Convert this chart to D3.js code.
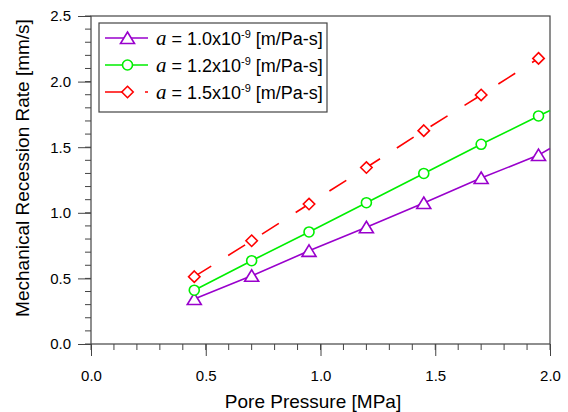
<!DOCTYPE html>
<html>
<head>
<meta charset="utf-8">
<script src="https://cdn.jsdelivr.net/npm/d3@7"></script>
<style>
  body { margin: 0; background: #fff; }
  text { font-family: Arial, "Liberation Sans", sans-serif; fill: #000; }
</style>
</head>
<body>
<div id="chart"></div>
<script>
// data
var pressure = [0.45, 0.7, 0.95, 1.2, 1.45, 1.7, 1.95, 2.0];
var rateA10 = [0.343, 0.52, 0.71, 0.89, 1.075, 1.265, 1.44, 1.49];
var rateA12 = [0.41, 0.635, 0.854, 1.077, 1.30, 1.522, 1.738, 1.78];
var rateA15 = [0.513, 0.787, 1.067, 1.345, 1.626, 1.898, 2.177];
var seriesLabels = ["1.0", "1.2", "1.5"];
var xTicks = [0.0, 0.5, 1.0, 1.5, 2.0];
var yTicks = [0.0, 0.5, 1.0, 1.5, 2.0, 2.5];

var series = [
  {label: seriesLabels[0], values: rateA10, color: "#9900cc", marker: "triangle", dash: null},
  {label: seriesLabels[1], values: rateA12, color: "#00ee00", marker: "circle", dash: null},
  {label: seriesLabels[2], values: rateA15, color: "#ff0000", marker: "diamond", dash: "20,20"}
];

var width = 568, height = 412;
var margin = {top: 16, right: 18, bottom: 68, left: 91};

var svg = d3.select("#chart")
  .append("svg")
    .attr("width", width)
    .attr("height", height);

var x = d3.scaleLinear().domain([0, 2]).range([margin.left, width - margin.right]);
var y = d3.scaleLinear().domain([0, 2.5]).range([height - margin.bottom, margin.top]);

var axisColor = "#444";

// minor ticks every 0.1
var xMinor = d3.range(0, 2.0001, 0.1);
var yMinor = d3.range(0, 2.5001, 0.1);

var xAxis = svg.append("g")
  .attr("transform", "translate(0," + y(0) + ")");
xAxis.selectAll("line.minor")
  .data(xMinor)
  .enter().append("line")
    .attr("x1", function(d) { return x(d); })
    .attr("x2", function(d) { return x(d); })
    .attr("y1", 0).attr("y2", 6)
    .attr("stroke", axisColor);
xAxis.call(d3.axisBottom(x).tickValues(xTicks).tickSize(12).tickPadding(14)
    .tickFormat(d3.format(".1f")))
  .call(function(g) { g.select(".domain").remove(); })
  .call(function(g) {
    g.selectAll(".tick line").attr("stroke", axisColor);
    g.selectAll(".tick text").attr("font-size", 15)
      .attr("font-family", "Arial, 'Liberation Sans', sans-serif");
  });

var yAxis = svg.append("g")
  .attr("transform", "translate(" + x(0) + ",0)");
yAxis.selectAll("line.minor")
  .data(yMinor)
  .enter().append("line")
    .attr("y1", function(d) { return y(d); })
    .attr("y2", function(d) { return y(d); })
    .attr("x1", 0).attr("x2", -6)
    .attr("stroke", axisColor);
yAxis.call(d3.axisLeft(y).tickValues(yTicks).tickSize(13).tickPadding(7)
    .tickFormat(d3.format(".1f")))
  .call(function(g) { g.select(".domain").remove(); })
  .call(function(g) {
    g.selectAll(".tick line").attr("stroke", axisColor);
    g.selectAll(".tick text").attr("font-size", 15)
      .attr("font-family", "Arial, 'Liberation Sans', sans-serif");
  });

// frame
svg.append("rect")
  .attr("x", x(0)).attr("y", y(2.5))
  .attr("width", x(2) - x(0)).attr("height", y(0) - y(2.5))
  .attr("fill", "none")
  .attr("stroke", axisColor)
  .attr("stroke-width", 1.2);

// axis titles
svg.append("text")
  .attr("x", 313).attr("y", 408)
  .attr("text-anchor", "middle")
  .attr("font-size", 19)
  .text("Pore Pressure [MPa]");
svg.append("text")
  .attr("transform", "translate(29,168) rotate(-90)")
  .attr("text-anchor", "middle")
  .attr("font-size", 19)
  .text("Mechanical Recession Rate [mm/s]");

// markers
function drawMarker(g, type, cx, cy, color) {
  if (type == "circle") {
    g.append("circle").attr("cx", cx).attr("cy", cy).attr("r", 5);
  } else if (type == "triangle") {
    g.append("path").attr("d", "M" + cx + "," + (cy - 6) + "L" + (cx + 7) + "," + (cy + 5.5) +
      "L" + (cx - 7) + "," + (cy + 5.5) + "Z");
  } else {
    g.append("path").attr("d", "M" + cx + "," + (cy - 5.7) + "L" + (cx + 5.7) + "," + cy +
      "L" + cx + "," + (cy + 5.7) + "L" + (cx - 5.7) + "," + cy + "Z");
  }
  g.selectAll("*").attr("fill", "#fff").attr("stroke", color).attr("stroke-width", 1.6);
}

var line = d3.line()
  .x(function(d, i) { return x(pressure[i]); })
  .y(function(d) { return y(d); });

series.forEach(function(s) {
  svg.append("path")
    .datum(s.values)
    .attr("d", line)
    .attr("fill", "none")
    .attr("stroke", s.color)
    .attr("stroke-width", 1.6)
    .attr("stroke-dasharray", s.dash);
  s.values.forEach(function(v, i) {
    if (pressure[i] > 1.96) return;
    drawMarker(svg.append("g"), s.marker, x(pressure[i]), y(v), s.color);
  });
});

// legend
var legend = svg.append("g");
legend.append("rect")
  .attr("x", 99).attr("y", 23)
  .attr("width", 228).attr("height", 89)
  .attr("fill", "#fff")
  .attr("stroke", axisColor)
  .attr("stroke-width", 1.2);

series.forEach(function(s, i) {
  var ly = 38 + i * 27;
  legend.append("line")
    .attr("x1", 105).attr("x2", 148)
    .attr("y1", ly).attr("y2", ly)
    .attr("stroke", s.color)
    .attr("stroke-width", 1.6)
    .attr("stroke-dasharray", s.dash);
  drawMarker(legend.append("g"), s.marker, 127.5, ly, s.color);
  var t = legend.append("text")
    .attr("x", 156).attr("y", ly + 7)
    .attr("font-size", 18);
  t.append("tspan")
    .attr("font-family", "'Liberation Serif', 'Times New Roman', serif")
    .attr("font-style", "italic")
    .attr("font-size", 21)
    .text("a");
  t.append("tspan").text(" = " + s.label + "x10");
  t.append("tspan").attr("font-size", 11).attr("dy", -7).text("-9");
  t.append("tspan").attr("dy", 7).text(" [m/Pa-s]");
});
</script>
</body>
</html>
